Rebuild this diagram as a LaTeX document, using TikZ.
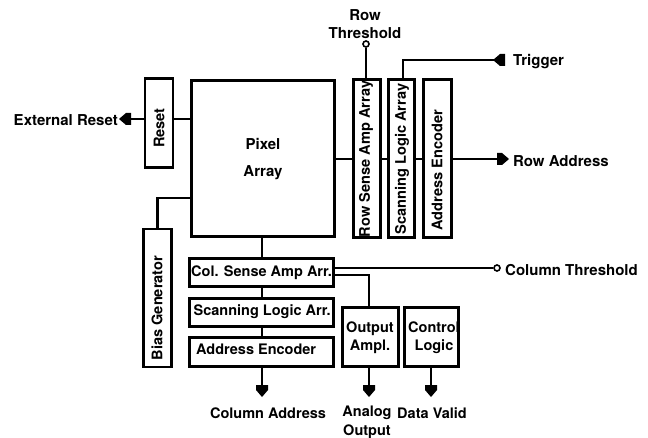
\documentclass[tikz,border=0pt]{standalone}
\usepackage{fontspec}
\setmainfont{TeX Gyre Heros}
\begin{document}
\begin{tikzpicture}[x=1pt,y=-1pt,
  box/.style={draw, line width=2.3pt, inner sep=0pt},
  wire/.style={line width=2.2pt},
  lbl/.style={font=\fontsize{14.5}{18}\selectfont\bfseries, inner sep=0pt, align=center},
  side/.style={lbl, font=\fontsize{15}{18}\selectfont\bfseries},
  rot/.style={lbl, font=\fontsize{14.6}{18}\selectfont\bfseries, rotate=90},
  term/.style={circle, draw, line width=1.6pt, inner sep=0pt, minimum size=6pt, fill=white},
  port/.pic={\fill (-6,0) -- (6,0) -- (6,5) -- (0,12) -- (-6,5) -- cycle;}]
\useasboundingbox (0,0) rectangle (648,438);
% boxes
\node[box, minimum width=28, minimum height=89] (reset) at (159,123) {};
\node[box, minimum width=143, minimum height=156] (pix) at (263,158.5) {};
\node[box, minimum width=27, minimum height=158] (rsa) at (367,158.5) {};
\node[box, minimum width=26, minimum height=158] (sla) at (401.5,158.5) {};
\node[box, minimum width=28, minimum height=158] (ren) at (437.5,158.5) {};
\node[box, minimum width=28, minimum height=138] (bias) at (157.5,298) {};
\node[box, minimum width=144, minimum height=28] (csa) at (261.5,272.5) {};
\node[box, minimum width=144, minimum height=28] (csl) at (261.5,312.5) {};
\node[box, minimum width=144, minimum height=29] (cae) at (261.5,352) {};
\node[box, minimum width=56, minimum height=59] (oamp) at (370.5,337) {};
\node[box, minimum width=54, minimum height=59] (ctl) at (431.5,337) {};
% box texts
\node[rot] (tReset) at (159,128) {Reset};
\node[rot] (tBias) at (157,308) {Bias Generator};
\node[lbl, font=\fontsize{15}{27}\selectfont\bfseries] (tPix) at (263,159.5) {Pixel\\Array};
\node[rot] (tRsa) at (366,159) {Row Sense Amp Array};
\node[rot] (tSla) at (402,159) {Scanning Logic Array};
\node[rot] (tRen) at (437,170) {Address Encoder};
\node[lbl, anchor=west] (tCsa) at (191,273) {Col. Sense Amp Arr.};
\node[lbl, anchor=west] (tCsl) at (193.5,312) {Scanning Logic Arr.};
\node[lbl, anchor=west] (tCae) at (196,349) {Address Encoder};
\node[lbl] (tOamp) at (370,338) {Output\\Ampl.};
\node[lbl] (tCtl) at (434,338) {Control\\Logic};
% coordinates
\coordinate (yR) at (0,119);
\coordinate (pER) at (131,119);
\coordinate (bb) at (158,198);
\coordinate (yRow) at (0,159);
\coordinate (pRA) at (497,159);
\coordinate (tk) at (403,60);
\coordinate (pTr) at (505,60);
\coordinate (cx) at (262,0);
\coordinate (pCA) at (262,385);
\coordinate (oc) at (369,275);
\coordinate (pAO) at (369,385);
\coordinate (dx) at (431,0);
\coordinate (pDV) at (431,385);
\node[term] (tRT) at (366,44) {};
\node[term] (tCT) at (497,268) {};
% wires
\draw[wire] (reset.east |- yR) -- (pix.west |- yR);
\draw[wire] (reset.west |- yR) -- (pER);
\draw[wire] (bias.north) -- (bias.north |- bb) -- (pix.west |- bb);
\draw[wire] (pix.east |- yRow) -- (rsa.west |- yRow);
\draw[wire] (rsa.east |- yRow) -- (sla.west |- yRow);
\draw[wire] (sla.east |- yRow) -- (ren.west |- yRow);
\draw[wire] (ren.east |- yRow) -- (pRA);
\draw[wire] (rsa.north -| tRT) -- (tRT.south);
\draw[wire] (sla.north -| tk) -- (tk) -- (pTr);
\draw[wire] (pix.south -| cx) -- (csa.north -| cx);
\draw[wire] (csa.south -| cx) -- (csl.north -| cx);
\draw[wire] (csl.south -| cx) -- (cae.north -| cx);
\draw[wire] (cae.south -| cx) -- (pCA);
\draw[wire] (csa.east |- tCT) -- (tCT.west);
\draw[wire] (csa.east |- oc) -- (oc) -- (oamp.north -| oc);
\draw[wire] (oamp.south -| oc) -- (pAO);
\draw[wire] (ctl.south -| dx) -- (pDV);
% ports
\pic[rotate=-90] at (pER) {port};
\pic[rotate=90] at (pRA) {port};
\pic[rotate=-90] at (pTr) {port};
\pic at (pCA) {port};
\pic at (pAO) {port};
\pic at (pDV) {port};
% outside labels
\node[side, anchor=east] (lER) at (118,120) {External Reset};
\node[side] (lRT) at (365,24) {Row\\Threshold};
\node[side, anchor=west] (lTr) at (513,62) {Trigger};
\node[side, anchor=west] (lRA) at (513,161) {Row Address};
\node[side, anchor=west] (lCT) at (505,270) {Column Threshold};
\node[lbl] (lCA) at (268,413) {Column Address};
\node[lbl, font=\fontsize{14.5}{19}\selectfont\bfseries] (lAO) at (367,422.5) {Analog\\Output};
\node[lbl] (lDV) at (432,413) {Data Valid};
\end{tikzpicture}
\end{document}
